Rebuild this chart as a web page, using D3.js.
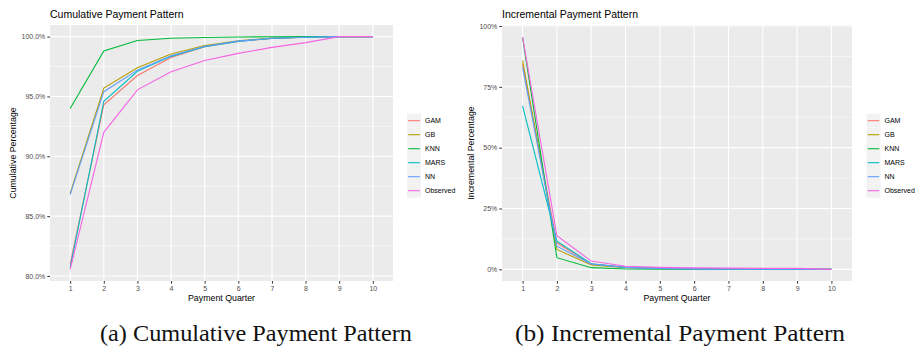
<!DOCTYPE html>
<html>
<head>
<meta charset="utf-8">
<script src="https://cdn.jsdelivr.net/npm/d3@7"></script>
<style>
  body { margin: 0; background: #fff; }
  svg { display: block; font-family: "Liberation Sans", Arial, sans-serif; }
</style>
</head>
<body>
<svg width="917" height="350"></svg>
<script>
// data
const quarters = ["1", "2", "3", "4", "5", "6", "7", "8", "9", "10"];
const models = ["GAM", "GB", "KNN", "MARS", "NN", "Observed"];
const colors = ["#F8766D", "#B79F00", "#00BA38", "#00BFC4", "#619CFF", "#F564E3"];

const cumGAM  = [81.0, 94.3, 96.75, 98.25, 99.15, 99.6, 99.85, 99.95, 100, 100];
const cumGB   = [86.9, 95.7, 97.4, 98.55, 99.25, 99.65, 99.87, 99.96, 100, 100];
const cumKNN  = [94.0, 98.8, 99.67, 99.86, 99.93, 99.97, 99.99, 100, 100, 100];
const cumMARS = [80.7, 94.6, 97.1, 98.35, 99.15, 99.6, 99.85, 99.95, 100, 100];
const cumNN   = [86.8, 95.4, 97.2, 98.4, 99.2, 99.62, 99.86, 99.95, 100, 100];
const cumObs  = [80.55, 92.0, 95.55, 97.07, 98.0, 98.6, 99.1, 99.5, 100, 100];

const incGAM  = [84.4, 10.9, 2.2, 0.8, 0.4, 0.2, 0.1, 0.05, 0.02, 0];
const incGB   = [85.8, 8.2, 1.8, 0.7, 0.35, 0.2, 0.1, 0.05, 0.02, 0];
const incKNN  = [95.2, 4.8, 0.7, 0.15, 0.05, 0.03, 0.02, 0.01, 0, 0];
const incMARS = [67.2, 11.6, 2.3, 0.8, 0.4, 0.2, 0.1, 0.05, 0.02, 0];
const incNN   = [83.0, 9.5, 2.2, 0.8, 0.4, 0.2, 0.1, 0.05, 0.02, 0];
const incObs  = [95.4, 13.8, 3.4, 1.3, 0.8, 0.6, 0.5, 0.4, 0.4, 0];

const cumTicks = [80, 85, 90, 95, 100];
const incTicks = [0, 25, 50, 75, 100];

const svg = d3.select("svg");

function drawPanel(opt) {
  const g = svg.append("g");
  const x = d3.scalePoint().domain(quarters).range([opt.left, opt.right]).padding(0.6);
  const y = d3.scaleLinear().domain(opt.domain).range([281, 25]);

  g.append("rect")
    .attr("x", opt.left).attr("y", 25)
    .attr("width", opt.right - opt.left).attr("height", 256)
    .attr("fill", "#EBEBEB");

  // minor y grid
  const minor = opt.ticks.slice(1).map((t, i) => (t + opt.ticks[i]) / 2);
  g.selectAll(".minor").data(minor).enter().append("line")
    .attr("x1", opt.left).attr("x2", opt.right)
    .attr("y1", d => y(d)).attr("y2", d => y(d))
    .attr("stroke", "#fff").attr("stroke-width", 0.55);

  g.selectAll(".hgrid").data(opt.ticks).enter().append("line")
    .attr("x1", opt.left).attr("x2", opt.right)
    .attr("y1", d => y(d)).attr("y2", d => y(d))
    .attr("stroke", "#fff").attr("stroke-width", 1.1);

  g.selectAll(".vgrid").data(quarters).enter().append("line")
    .attr("x1", d => x(d)).attr("x2", d => x(d))
    .attr("y1", 25).attr("y2", 281)
    .attr("stroke", "#fff").attr("stroke-width", 1.1);

  const line = d3.line().x((d, i) => x(quarters[i])).y(d => y(d));
  opt.series.forEach((s, i) => {
    g.append("path").datum(s)
      .attr("d", line)
      .attr("fill", "none")
      .attr("stroke", colors[i])
      .attr("stroke-width", 1.1);
  });

  // axes
  const yAxis = g.append("g")
    .attr("transform", `translate(${opt.left},0)`)
    .call(d3.axisLeft(y).tickValues(opt.ticks).tickSize(2.7).tickPadding(2).tickFormat(opt.fmt));
  const xAxis = g.append("g")
    .attr("transform", "translate(0,281)")
    .call(d3.axisBottom(x).tickSize(2.7).tickPadding(2));
  [yAxis, xAxis].forEach(a => {
    a.select(".domain").remove();
    a.selectAll(".tick line").attr("stroke", "#333").attr("stroke-width", 1);
    a.selectAll(".tick text").attr("fill", "#4D4D4D")
      .style("font-size", "7px").style("font-family", "Liberation Sans, Arial, sans-serif");
  });

  g.append("text")
    .attr("x", opt.left).attr("y", 18)
    .style("font-size", "10.5px").attr("fill", "#000")
    .text(opt.title);

  g.append("text")
    .attr("x", (opt.left + opt.right) / 2).attr("y", 301)
    .attr("text-anchor", "middle")
    .style("font-size", "8.8px").attr("fill", "#000")
    .text("Payment Quarter");

  g.append("text")
    .attr("transform", `translate(${opt.yLabelX},153) rotate(-90)`)
    .attr("text-anchor", "middle")
    .style("font-size", "8.8px").attr("fill", "#000")
    .text(opt.yLabel);

  // legend
  const lg = g.append("g").attr("transform", `translate(${opt.legendX},0)`);
  models.forEach((m, i) => {
    const cy = 120.7 + i * 14;
    lg.append("rect").attr("x", 0).attr("y", cy - 7)
      .attr("width", 14).attr("height", 14).attr("fill", "#F2F2F2");
    lg.append("line").attr("x1", 1.2).attr("x2", 12.8)
      .attr("y1", cy).attr("y2", cy)
      .attr("stroke", colors[i]).attr("stroke-width", 1.1);
    lg.append("text").attr("x", 18).attr("y", cy + 2.5)
      .style("font-size", "7px").attr("fill", "#000")
      .text(m);
  });
}

drawPanel({
  left: 50, right: 393,
  domain: [79.58, 100.97],
  ticks: cumTicks,
  fmt: d => d.toFixed(1) + "%",
  series: [cumGAM, cumGB, cumKNN, cumMARS, cumNN, cumObs],
  title: "Cumulative Payment Pattern",
  yLabel: "Cumulative Percentage",
  yLabelX: 16,
  legendX: 407
});

drawPanel({
  left: 502, right: 852,
  domain: [-4.78, 100.4],
  ticks: incTicks,
  fmt: d => d + "%",
  series: [incGAM, incGB, incKNN, incMARS, incNN, incObs],
  title: "Incremental Payment Pattern",
  yLabel: "Incremental Percentage",
  yLabelX: 474,
  legendX: 866.5
});

// subfigure captions
svg.append("text")
  .attr("x", 256).attr("y", 341)
  .attr("text-anchor", "middle")
  .style("font-family", "'Liberation Serif', 'Times New Roman', serif")
  .style("font-size", "24px")
  .attr("fill", "#111")
  .attr("textLength", 312).attr("lengthAdjust", "spacingAndGlyphs")
  .text("(a) Cumulative Payment Pattern");

svg.append("text")
  .attr("x", 680).attr("y", 341)
  .attr("text-anchor", "middle")
  .style("font-family", "'Liberation Serif', 'Times New Roman', serif")
  .style("font-size", "24px")
  .attr("fill", "#111")
  .attr("textLength", 330).attr("lengthAdjust", "spacingAndGlyphs")
  .text("(b) Incremental Payment Pattern");
</script>
</body>
</html>
